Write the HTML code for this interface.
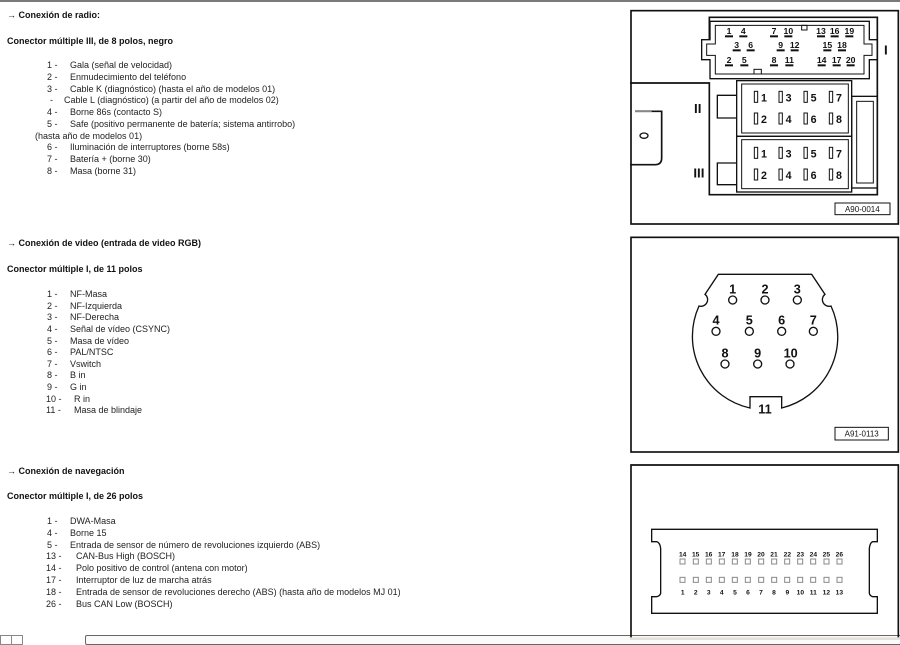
<!DOCTYPE html>
<html><head><meta charset="utf-8">
<style>
body{margin:0;width:900px;height:640px;background:#fff;position:relative;overflow:hidden;font-family:"Liberation Sans",Arial,sans-serif;color:#222}
.t{position:absolute;font-size:9px;white-space:nowrap;line-height:11px}
.b{font-weight:bold;color:#111}
svg{position:absolute}
svg text{font-family:"Liberation Sans",Arial,sans-serif;font-weight:bold;fill:#111}
</style></head><body>
<div style="position:absolute;left:0;top:0;width:900px;height:2px;background:#7a7a7a"></div>

<div class="t b" style="left:7px;top:10px">→ Conexión de radio:</div>
<div class="t b" style="left:7px;top:36px">Conector múltiple III, de 8 polos, negro</div>
<div class="t" style="left:47px;top:60px">1 -</div><div class="t" style="left:70px;top:60px">Gala (señal de velocidad)</div>
<div class="t" style="left:47px;top:72px">2 -</div><div class="t" style="left:70px;top:72px">Enmudecimiento del teléfono</div>
<div class="t" style="left:47px;top:84px">3 -</div><div class="t" style="left:70px;top:84px">Cable K (diagnóstico) (hasta el año de modelos 01)</div>
<div class="t" style="left:50px;top:95px">-</div><div class="t" style="left:64px;top:95px">Cable L (diagnóstico) (a partir del año de modelos 02)</div>
<div class="t" style="left:47px;top:107px">4 -</div><div class="t" style="left:70px;top:107px">Borne 86s (contacto S)</div>
<div class="t" style="left:47px;top:119px">5 -</div><div class="t" style="left:70px;top:119px">Safe (positivo permanente de batería; sistema antirrobo)</div>
<div class="t" style="left:35px;top:131px">(hasta año de modelos 01)</div>
<div class="t" style="left:47px;top:142px">6 -</div><div class="t" style="left:70px;top:142px">Iluminación de interruptores (borne 58s)</div>
<div class="t" style="left:47px;top:154px">7 -</div><div class="t" style="left:70px;top:154px">Batería + (borne 30)</div>
<div class="t" style="left:47px;top:166px">8 -</div><div class="t" style="left:70px;top:166px">Masa (borne 31)</div>

<div class="t b" style="left:7px;top:238px">→ Conexión de video (entrada de video RGB)</div>
<div class="t b" style="left:7px;top:264px">Conector múltiple I, de 11 polos</div>
<div class="t" style="left:47px;top:289px">1 -</div><div class="t" style="left:70px;top:289px">NF-Masa</div>
<div class="t" style="left:47px;top:301px">2 -</div><div class="t" style="left:70px;top:301px">NF-Izquierda</div>
<div class="t" style="left:47px;top:312px">3 -</div><div class="t" style="left:70px;top:312px">NF-Derecha</div>
<div class="t" style="left:47px;top:324px">4 -</div><div class="t" style="left:70px;top:324px">Señal de vídeo (CSYNC)</div>
<div class="t" style="left:47px;top:336px">5 -</div><div class="t" style="left:70px;top:336px">Masa de vídeo</div>
<div class="t" style="left:47px;top:347px">6 -</div><div class="t" style="left:70px;top:347px">PAL/NTSC</div>
<div class="t" style="left:47px;top:359px">7 -</div><div class="t" style="left:70px;top:359px">Vswitch</div>
<div class="t" style="left:47px;top:370px">8 -</div><div class="t" style="left:70px;top:370px">B in</div>
<div class="t" style="left:47px;top:382px">9 -</div><div class="t" style="left:70px;top:382px">G in</div>
<div class="t" style="left:46px;top:394px">10 -</div><div class="t" style="left:74px;top:394px">R in</div>
<div class="t" style="left:46px;top:405px">11 -</div><div class="t" style="left:74px;top:405px">Masa de blindaje</div>

<div class="t b" style="left:7px;top:466px">→ Conexión de navegación</div>
<div class="t b" style="left:7px;top:491px">Conector múltiple I, de 26 polos</div>
<div class="t" style="left:47px;top:516px">1 -</div><div class="t" style="left:70px;top:516px">DWA-Masa</div>
<div class="t" style="left:47px;top:528px">4 -</div><div class="t" style="left:70px;top:528px">Borne 15</div>
<div class="t" style="left:47px;top:540px">5 -</div><div class="t" style="left:70px;top:540px">Entrada de sensor de número de revoluciones izquierdo (ABS)</div>
<div class="t" style="left:46px;top:551px">13 -</div><div class="t" style="left:76px;top:551px">CAN-Bus High (BOSCH)</div>
<div class="t" style="left:46px;top:563px">14 -</div><div class="t" style="left:76px;top:563px">Polo positivo de control (antena con motor)</div>
<div class="t" style="left:46px;top:575px">17 -</div><div class="t" style="left:76px;top:575px">Interruptor de luz de marcha atrás</div>
<div class="t" style="left:46px;top:587px">18 -</div><div class="t" style="left:76px;top:587px">Entrada de sensor de revoluciones derecho (ABS) (hasta año de modelos MJ 01)</div>
<div class="t" style="left:46px;top:599px">26 -</div><div class="t" style="left:76px;top:599px">Bus CAN Low (BOSCH)</div>

<div style="position:absolute;left:0;top:635px;width:10px;height:8px;border:1px solid #888"></div>
<div style="position:absolute;left:11px;top:635px;width:10px;height:8px;border:1px solid #888"></div>
<div style="position:absolute;left:85px;top:635px;width:820px;height:8px;border:1px solid #666;border-radius:2px;background:#fafafa"></div>

<!-- Panel 1 -->
<svg style="left:630px;top:8px" width="270" height="220" viewBox="0 0 810 660">
<g fill="none" stroke="#111" stroke-width="5">
<rect x="3" y="8" width="802" height="640"/>
<path d="M0 225 L238 225 L238 560 L742 560 L742 28 L238 28 L238 95"/>
<path d="M15 310 L95 310 L95 450 Q95 470 75 470 L0 470" />
<path d="M240 40 L718 40 L718 95 L742 95 L742 155 L718 155 L718 212 L240 212 L240 155 L215 155 L215 95 L240 95 Z" stroke-width="4"/>
<path d="M256 52 L702 52 L702 108 L726 108 L726 142 L702 142 L702 198 L256 198 L256 142 L230 142 L230 108 L256 108 Z" stroke-width="3"/>
<rect x="515" y="52" width="16" height="14" stroke-width="3"/>
<rect x="372" y="184" width="22" height="14" stroke-width="3"/>
<rect x="320" y="218" width="345" height="167" stroke-width="4"/>
<rect x="335" y="228" width="320" height="147" stroke-width="3"/>
<rect x="320" y="385" width="345" height="167" stroke-width="4"/>
<rect x="335" y="395" width="320" height="147" stroke-width="3"/>
<path d="M320 262 L262 262 L262 330 L320 330" stroke-width="4"/>
<path d="M320 465 L262 465 L262 530 L320 530" stroke-width="4"/>
<rect x="665" y="265" width="77" height="275" stroke-width="4"/>
<rect x="680" y="280" width="50" height="245" stroke-width="3"/>
<rect x="615" y="585" width="165" height="35" stroke-width="3"/>
<g stroke-width="3">
<rect x="373" y="250" width="10" height="33"/><rect x="447" y="250" width="10" height="33"/><rect x="522" y="250" width="10" height="33"/><rect x="598" y="250" width="10" height="33"/>
<rect x="373" y="315" width="10" height="33"/><rect x="447" y="315" width="10" height="33"/><rect x="522" y="315" width="10" height="33"/><rect x="598" y="315" width="10" height="33"/>
<rect x="373" y="418" width="10" height="33"/><rect x="447" y="418" width="10" height="33"/><rect x="522" y="418" width="10" height="33"/><rect x="598" y="418" width="10" height="33"/>
<rect x="373" y="483" width="10" height="33"/><rect x="447" y="483" width="10" height="33"/><rect x="522" y="483" width="10" height="33"/><rect x="598" y="483" width="10" height="33"/>
</g>
</g>
<line x1="15" y1="310" x2="65" y2="310" stroke="#999" stroke-width="3"/>
<ellipse cx="42" cy="383" rx="12" ry="8" fill="none" stroke="#111" stroke-width="4"/>
<g font-size="26" text-anchor="middle">
<text x="297" y="78">1</text><text x="340" y="78">4</text><text x="432" y="78">7</text><text x="475" y="78">10</text><text x="573" y="78">13</text><text x="614" y="78">16</text><text x="658" y="78">19</text>
<text x="320" y="120">3</text><text x="362" y="120">6</text><text x="452" y="120">9</text><text x="494" y="120">12</text><text x="592" y="120">15</text><text x="636" y="120">18</text>
<text x="297" y="165">2</text><text x="343" y="165">5</text><text x="432" y="165">8</text><text x="478" y="165">11</text><text x="575" y="165">14</text><text x="620" y="165">17</text><text x="662" y="165">20</text>
</g>
<g fill="#111">
<rect x="285" y="82" width="24" height="6"/><rect x="328" y="82" width="24" height="6"/><rect x="420" y="82" width="24" height="6"/><rect x="463" y="82" width="24" height="6"/><rect x="561" y="82" width="24" height="6"/><rect x="602" y="82" width="24" height="6"/><rect x="646" y="82" width="24" height="6"/>
<rect x="308" y="124" width="24" height="6"/><rect x="350" y="124" width="24" height="6"/><rect x="440" y="124" width="24" height="6"/><rect x="482" y="124" width="24" height="6"/><rect x="580" y="124" width="24" height="6"/><rect x="624" y="124" width="24" height="6"/>
<rect x="285" y="169" width="24" height="6"/><rect x="331" y="169" width="24" height="6"/><rect x="420" y="169" width="24" height="6"/><rect x="466" y="169" width="24" height="6"/><rect x="563" y="169" width="24" height="6"/><rect x="608" y="169" width="24" height="6"/><rect x="650" y="169" width="24" height="6"/>
</g>
<g font-size="32">
<text x="393" y="280">1</text><text x="467" y="280">3</text><text x="542" y="280">5</text><text x="618" y="280">7</text>
<text x="393" y="345">2</text><text x="467" y="345">4</text><text x="542" y="345">6</text><text x="618" y="345">8</text>
<text x="393" y="448">1</text><text x="467" y="448">3</text><text x="542" y="448">5</text><text x="618" y="448">7</text>
<text x="393" y="513">2</text><text x="467" y="513">4</text><text x="542" y="513">6</text><text x="618" y="513">8</text>
</g>
<g font-family="Liberation Serif,serif" font-weight="normal" font-size="40" style="font-family:'Liberation Serif',serif;font-weight:normal">
<text x="762" y="140">I</text><text x="192" y="315">II</text><text x="190" y="508">III</text>
</g>
<text x="697" y="612" font-size="24" text-anchor="middle" style="font-weight:normal">A90-0014</text>
</svg>

<!-- Panel 2 -->
<svg style="left:630px;top:230px" width="270" height="230" viewBox="0 0 810 690">
<rect x="3" y="22" width="802" height="644" fill="none" stroke="#111" stroke-width="5"/>
<path d="M265 133 L545 133 L585 193 A20 20 0 0 0 603 228 A220 220 0 0 1 455 534 L455 500 L360 500 L360 534 A220 220 0 0 1 207 228 A20 20 0 0 0 225 193 Z" fill="none" stroke="#111" stroke-width="4"/>
<g fill="none" stroke="#111" stroke-width="4">
<circle cx="308" cy="210" r="12"/><circle cx="405" cy="210" r="12"/><circle cx="502" cy="210" r="12"/>
<circle cx="258" cy="304" r="12"/><circle cx="358" cy="304" r="12"/><circle cx="455" cy="304" r="12"/><circle cx="550" cy="304" r="12"/>
<circle cx="285" cy="402" r="12"/><circle cx="383" cy="402" r="12"/><circle cx="480" cy="402" r="12"/>
</g>
<g font-size="38" text-anchor="middle">
<text x="308" y="190">1</text><text x="405" y="190">2</text><text x="502" y="190">3</text>
<text x="258" y="284">4</text><text x="358" y="284">5</text><text x="455" y="284">6</text><text x="550" y="284">7</text>
<text x="285" y="382">8</text><text x="383" y="382">9</text><text x="482" y="382">10</text>
<text x="405" y="550">11</text>
</g>
<rect x="615" y="592" width="160" height="38" fill="none" stroke="#111" stroke-width="3"/>
<text x="695" y="619" font-size="24" text-anchor="middle" style="font-weight:normal">A91-0113</text>
</svg>

<!-- Panel 3 -->
<svg style="left:630px;top:460px" width="270" height="180" viewBox="0 0 810 540">
<path d="M3 540 L3 15 L805 15 L805 540" fill="none" stroke="#111" stroke-width="5"/>
<path d="M65 208 L742 208 L742 245 L728 245 Q720 248 718 265 L718 400 Q720 408 728 410 L742 410 L742 460 L65 460 L65 410 L80 410 Q90 408 92 400 L92 265 Q90 248 80 245 L65 245 Z" fill="none" stroke="#111" stroke-width="4"/>
<g fill="none" stroke="#888" stroke-width="3">
<rect x="150" y="297" width="15" height="15"/><rect x="190" y="297" width="15" height="15"/><rect x="229" y="297" width="15" height="15"/><rect x="268" y="297" width="15" height="15"/><rect x="307" y="297" width="15" height="15"/><rect x="346" y="297" width="15" height="15"/><rect x="386" y="297" width="15" height="15"/><rect x="425" y="297" width="15" height="15"/><rect x="464" y="297" width="15" height="15"/><rect x="503" y="297" width="15" height="15"/><rect x="542" y="297" width="15" height="15"/><rect x="582" y="297" width="15" height="15"/><rect x="621" y="297" width="15" height="15"/>
<rect x="150" y="352" width="15" height="15"/><rect x="190" y="352" width="15" height="15"/><rect x="229" y="352" width="15" height="15"/><rect x="268" y="352" width="15" height="15"/><rect x="307" y="352" width="15" height="15"/><rect x="346" y="352" width="15" height="15"/><rect x="386" y="352" width="15" height="15"/><rect x="425" y="352" width="15" height="15"/><rect x="464" y="352" width="15" height="15"/><rect x="503" y="352" width="15" height="15"/><rect x="542" y="352" width="15" height="15"/><rect x="582" y="352" width="15" height="15"/><rect x="621" y="352" width="15" height="15"/>
</g>
<g font-size="20" text-anchor="middle">
<text x="158" y="290">14</text><text x="197" y="290">15</text><text x="236" y="290">16</text><text x="275" y="290">17</text><text x="315" y="290">18</text><text x="354" y="290">19</text><text x="393" y="290">20</text><text x="432" y="290">21</text><text x="472" y="290">22</text><text x="511" y="290">23</text><text x="550" y="290">24</text><text x="589" y="290">25</text><text x="628" y="290">26</text>
<text x="158" y="403">1</text><text x="197" y="403">2</text><text x="236" y="403">3</text><text x="275" y="403">4</text><text x="315" y="403">5</text><text x="354" y="403">6</text><text x="393" y="403">7</text><text x="432" y="403">8</text><text x="472" y="403">9</text><text x="511" y="403">10</text><text x="550" y="403">11</text><text x="589" y="403">12</text><text x="628" y="403">13</text>
</g>
<rect x="0" y="532" width="810" height="8" fill="#e4e0dc"/>
</svg>
</body></html>
